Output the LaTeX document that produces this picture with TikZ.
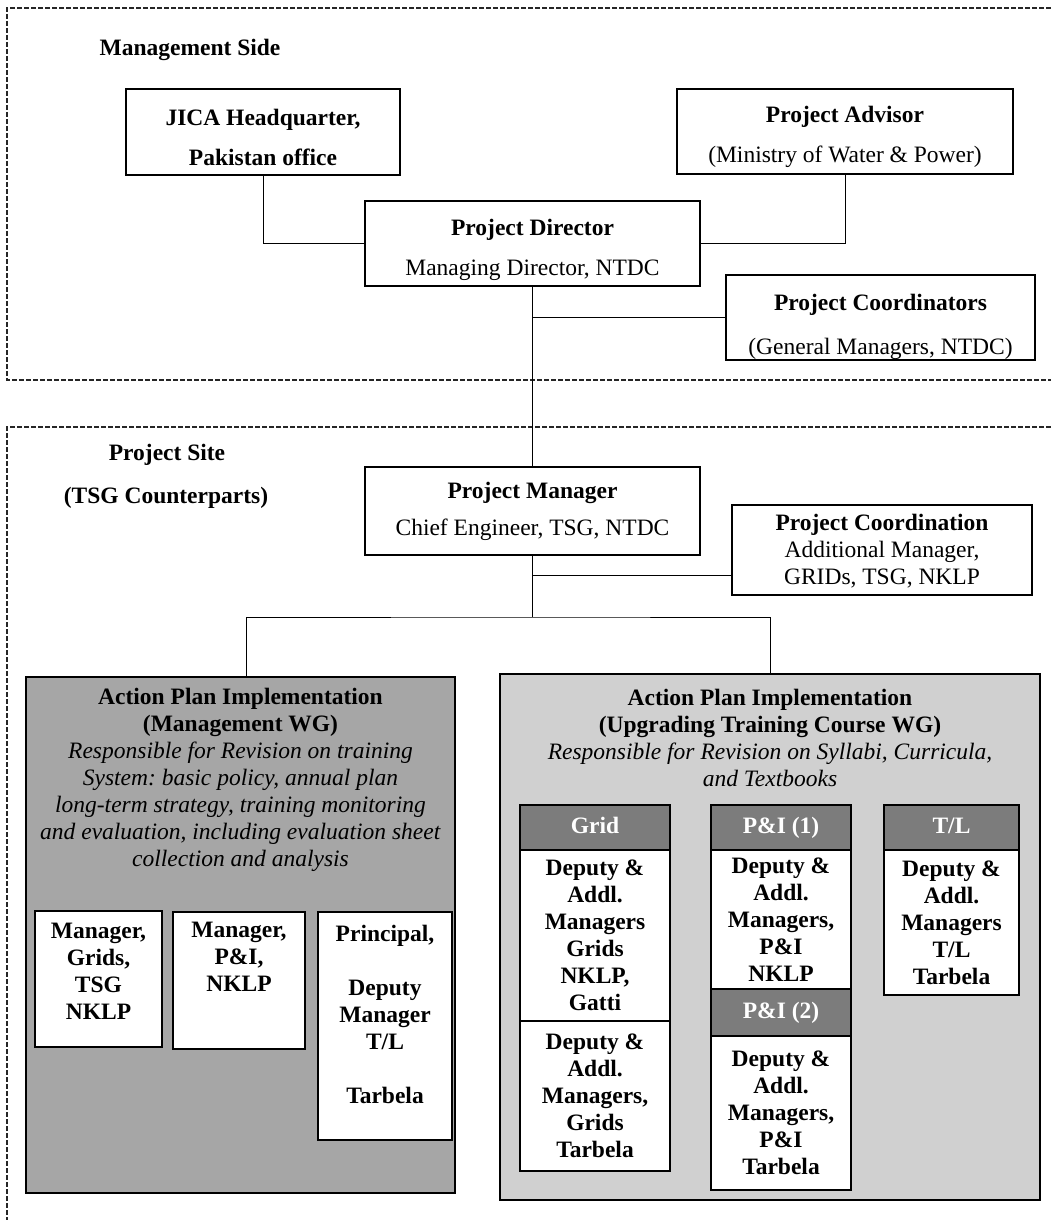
\documentclass[tikz,border=0pt]{standalone}
\usepackage{fontspec}
\setmainfont{Liberation Serif}
\usetikzlibrary{calc}
\definecolor{leftgray}{HTML}{A6A6A6}
\definecolor{rightgray}{HTML}{D0D0D0}
\definecolor{headgray}{HTML}{7C7C7C}
\frenchspacing
\begin{document}
\frenchspacing
\begin{tikzpicture}[x=1pt,y=-1pt,
  box/.style={draw, line width=1.2pt, fill=white, inner sep=0pt},
  hdr/.style={draw, line width=1.2pt, fill=headgray, inner sep=0pt, text=white, text height=16pt, text depth=5pt, font=\fontsize{23.5}{27}\selectfont\bfseries},
  txt/.style={align=center, inner sep=0pt, font=\fontsize{23.5}{27}\selectfont},
  btxt/.style={align=center, inner sep=0pt, font=\fontsize{23.5}{27}\selectfont\bfseries},
  toptxt/.style={align=center, inner sep=0pt, font=\fontsize{23.5}{40}\selectfont},
  conn/.style={line width=1pt},
  zone/.style={dash pattern=on 5pt off 2pt, line width=1.2pt, draw=black!85}]
\useasboundingbox (0,0) rectangle (1051,1220);

% zones
\draw[zone] (1051,8) -- (7,8) -- (7,380) -- (1051,380);
\draw[zone] (1051,427) -- (7,427) -- (7,1220);

% zone labels
\node[btxt] (mside) at (190,50) {Management Side};
\node[btxt] (psite) at (167,455) {Project Site};
\node[btxt] (tsgc) at (166,498) {(TSG Counterparts)};

% management boxes
\node[box, minimum width=274pt, minimum height=86pt] (jica) at (263,132) {};
\node[toptxt, font=\fontsize{23.5}{40}\selectfont\bfseries] (jicat) at (263,137) {JICA Headquarter,\\Pakistan office};

\node[box, minimum width=336pt, minimum height=85pt] (adv) at (845,131.5) {};
\node[toptxt] (advt) at (845,137) {\textbf{Project Advisor}\\(Ministry of Water \& Power)};

\node[box, minimum width=335pt, minimum height=85pt] (pd) at (532.5,243.5) {};
\node[toptxt] (pdt) at (532.5,250) {\textbf{Project Director}\\Managing Director, NTDC};

\node[box, minimum width=309pt, minimum height=85pt] (pc) at (880.5,317.5) {};
\node[toptxt, font=\fontsize{23.5}{44}\selectfont] (pct) at (880.5,327) {\textbf{Project Coordinators}\\(General Managers, NTDC)};

% project site boxes
\node[box, minimum width=335pt, minimum height=88pt] (pm) at (532.5,511) {};
\node[toptxt, font=\fontsize{23.5}{37}\selectfont] (pmt) at (532.5,511) {\textbf{Project Manager}\\Chief Engineer, TSG, NTDC};

\node[box, minimum width=300pt, minimum height=90pt] (pco) at (882,550) {};
\node[txt] (pcot) at (882,551) {\textbf{Project Coordination}\\Additional Manager,\\GRIDs, TSG, NKLP};

% connectors top
\draw[conn] (jica.south) |- (pd.west);
\draw[conn] (adv.south) |- (pd.east);
\draw[conn] (pd.south) -- (pm.north);
\draw[conn] (pc.west) -- (pc.west -| pd.south);
\coordinate (pcoj) at (732,575);
\draw[conn] (pcoj) -- (pcoj -| pm.south);

% working group boxes
\node[draw, line width=1.2pt, fill=leftgray, minimum width=429pt, minimum height=516pt, inner sep=0pt] (lbox) at (240.5,935) {};
\node[draw, line width=1.2pt, fill=rightgray, minimum width=540pt, minimum height=526pt, inner sep=0pt] (rbox) at (770,937) {};

\coordinate (bus) at (532.5,617);
\coordinate (ltop) at ($(lbox.north)+(6,0)$);
\draw[conn] (pm.south) -- (bus);
\draw[conn] (ltop) |- (bus) -| (rbox.north);

% left group text
\node[txt] (ltxt) at (240.5,780) {\textbf{Action Plan Implementation}\\\textbf{(Management WG)}\\
\textit{Responsible for Revision on training}\\\textit{System: basic policy, annual plan}\\
\textit{long-term strategy, training monitoring}\\\textit{and evaluation, including evaluation sheet}\\
\textit{collection and analysis}};

\node[box, minimum width=127pt, minimum height=136pt] (s1) at (98.5,979) {};
\node[btxt] (s1t) at (98.5,971) {Manager,\\Grids,\\TSG\\NKLP};
\node[box, minimum width=132pt, minimum height=137pt] (s2) at (239,980.5) {};
\node[btxt] (s2t) at (239,957) {Manager,\\P\&I,\\NKLP};
\node[box, minimum width=134pt, minimum height=228pt] (s3) at (385,1026) {};
\node[btxt] (s3t) at (385,1014) {Principal,\\\mbox{}\\Deputy\\Manager\\T/L\\\mbox{}\\Tarbela};

% right group text
\node[txt] (rtxt) at (770,738) {\textbf{Action Plan Implementation}\\\textbf{(Upgrading Training Course WG)}\\
\textit{Responsible for Revision on Syllabi, Curricula,}\\\textit{and Textbooks}};

% Grid column
\node[hdr, minimum width=150pt, minimum height=45pt] (gridh) at (595,827.5) {Grid};
\node[box, btxt, minimum width=150pt, minimum height=171pt] (gridb) at (595,935.5) {Deputy \&\\Addl.\\Managers\\Grids\\NKLP,\\Gatti};
\node[box, btxt, minimum width=150pt, minimum height=150pt] (gridc) at (595,1096) {Deputy \&\\Addl.\\Managers,\\Grids\\Tarbela};

% P&I column
\node[hdr, minimum width=140pt, minimum height=45pt] (pi1h) at (781,827.5) {P\&I (1)};
\node[box, btxt, minimum width=140pt, minimum height=139pt] (pi1b) at (781,919.5) {Deputy \&\\Addl.\\Managers,\\P\&I\\NKLP};
\node[hdr, minimum width=140pt, minimum height=47pt] (pi2h) at (781,1012.5) {P\&I (2)};
\node[box, btxt, minimum width=140pt, minimum height=154pt] (pi2b) at (781,1113) {Deputy \&\\Addl.\\Managers,\\P\&I\\Tarbela};

% T/L column
\node[hdr, minimum width=135pt, minimum height=45pt] (tlh) at (951.5,827.5) {T/L};
\node[box, btxt, minimum width=135pt, minimum height=145pt] (tlb) at (951.5,922.5) {Deputy \&\\Addl.\\Managers\\T/L\\Tarbela};
\end{tikzpicture}
\end{document}
